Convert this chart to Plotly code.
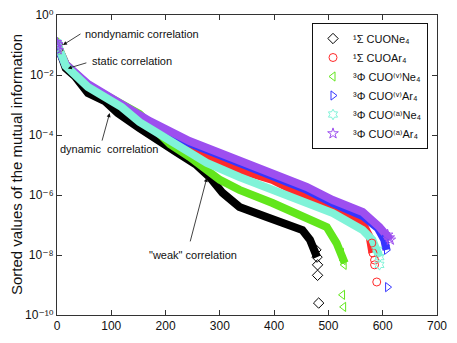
import plotly.graph_objects as go

# ---- data (rank, sorted mutual information) ----
names = ["¹Σ CUONe₄", "¹Σ CUOAr₄",
         "³Φ CUO⁽ᵛ⁾Ne₄", "³Φ CUO⁽ᵛ⁾Ar₄",
         "³Φ CUO⁽ᵃ⁾Ne₄", "³Φ CUO⁽ᵃ⁾Ar₄"]

black_rank = [1, 9, 16, 33, 57, 88, 112, 152, 189, 208, 220, 257, 281, 305, 336, 386, 428, 452, 466, 475, 479]
black_val = [1.0e-1, 4.7e-2, 1.7e-2, 9.0e-3, 2.5e-3, 1.35e-3, 5.4e-4, 1.7e-4, 6.8e-5, 4.0e-5, 2.7e-5,
             1.0e-5, 4.0e-6, 1.17e-6, 4.0e-7, 1.86e-7, 1.0e-7, 6.8e-8, 3.2e-8, 1.17e-8, 8.5e-9]
black_tail_rank = [477, 479, 480, 480, 482]
black_tail_val = [1.48e-8, 8.5e-9, 4.7e-9, 2.1e-9, 2.5e-10]

red_rank = [1, 9, 16, 57, 119, 171, 276, 336, 397, 460, 515, 563, 576, 581]
red_val = [9.3e-2, 4.3e-2, 2.3e-2, 4.3e-3, 9.3e-4, 2.0e-4, 1.86e-5, 6.8e-6, 3.2e-6, 8.5e-7,
           3.2e-7, 1.17e-7, 4.0e-8, 1.17e-8]
red_tail_rank = [580, 582, 585, 585, 589]
red_tail_val = [2.5e-8, 1.17e-8, 6.8e-9, 4.7e-9, 1.26e-9]

green_rank = [1, 9, 16, 57, 119, 152, 208, 244, 300, 336, 397, 460, 497, 515, 521, 530]
green_val = [1.0e-1, 4.7e-2, 2.3e-2, 4.6e-3, 1.07e-3, 5.0e-4, 5.0e-5, 1.86e-5, 3.2e-6, 1.48e-6,
             5.4e-7, 1.86e-7, 8.5e-8, 2.5e-8, 1.48e-8, 5.4e-9]
green_tail_rank = [524, 527, 529, 526, 528]
green_tail_val = [1.17e-8, 6.8e-9, 4.7e-9, 4.7e-10, 1.86e-10]

blue_rank = [1, 9, 16, 57, 119, 171, 244, 336, 397, 460, 508, 563, 591, 603, 607]
blue_val = [8.5e-2, 4.0e-2, 2.1e-2, 4.6e-3, 1.0e-3, 2.5e-4, 5.4e-5, 1.17e-5, 4.3e-6, 1.48e-6,
            5.4e-7, 2.0e-7, 7.9e-8, 3.2e-8, 1.48e-8]
blue_tail_rank = [603, 605, 607, 609]
blue_tail_val = [3.2e-8, 2.1e-8, 1.48e-8, 8.5e-10]

cyan_rank = [1, 9, 16, 57, 119, 152, 213, 276, 336, 397, 460, 508, 563, 581, 594]
cyan_val = [1.07e-1, 4.7e-2, 2.0e-2, 4.0e-3, 8.5e-4, 2.7e-4, 5.4e-5, 1.17e-5, 4.0e-6, 1.48e-6,
            5.4e-7, 2.5e-7, 6.8e-8, 3.2e-8, 8.5e-9]
cyan_tail_rank = [590, 594, 594]
cyan_tail_val = [1.48e-8, 8.5e-9, 4.7e-9]

purple_rank = [1, 9, 16, 57, 119, 171, 244, 336, 397, 460, 508, 563, 594, 609, 614]
purple_val = [9.3e-2, 4.7e-2, 2.3e-2, 5.0e-3, 1.07e-3, 2.9e-4, 6.3e-5, 1.48e-5, 5.4e-6, 1.86e-6,
              6.8e-7, 2.7e-7, 8.5e-8, 4.7e-8, 3.2e-8]
purple_tail_rank = [609, 612, 614]
purple_tail_val = [4.7e-8, 3.8e-8, 3.2e-8]

start_rank = [0, 1, 2, 3]
start_val = [1.26e-1, 8.5e-2, 1.07e-1, 6.8e-2]

x_ticks = [0, 100, 200, 300, 400, 500, 600, 700]
y_tick_vals = [1, 1e-2, 1e-4, 1e-6, 1e-8, 1e-10]
y_tick_text = ["10⁰", "10⁻²", "10⁻⁴", "10⁻⁶", "10⁻⁸", "10⁻¹⁰"]

colors = ["#000000", "#ff2a2a", "#62e61c", "#3535ff", "#80f3d8", "#9d4fef"]
symbols = ["diamond-open", "circle-open", "triangle-left-open", "triangle-right-open",
           "hexagram-open", "star-open"]

series = [
    (black_rank, black_val, black_tail_rank, black_tail_val),
    (red_rank, red_val, red_tail_rank, red_tail_val),
    (green_rank, green_val, green_tail_rank, green_tail_val),
    (blue_rank, blue_val, blue_tail_rank, blue_tail_val),
    (cyan_rank, cyan_val, cyan_tail_rank, cyan_tail_val),
    (purple_rank, purple_val, purple_tail_rank, purple_tail_val),
]
line_order = [0, 1, 2, 3, 5, 4]  # cyan band painted last, as in the picture

FONT = "Liberation Sans, Arial, Helvetica, DejaVu Sans, sans-serif"
fig = go.Figure()

for i in line_order:
    r, v, tr, tv = series[i]
    fig.add_trace(go.Scatter(x=r, y=v, mode="lines", showlegend=False, hoverinfo="skip",
                             line=dict(color=colors[i], width=8)))
for i, (r, v, tr, tv) in enumerate(series):
    fig.add_trace(go.Scatter(x=tr, y=tv, mode="markers", name=names[i],
                             marker=dict(symbol=symbols[i], size=8, color=colors[i],
                                         line=dict(width=1, color=colors[i]))))
    fig.add_trace(go.Scatter(x=start_rank, y=start_val, mode="markers", showlegend=False,
                             marker=dict(symbol=symbols[i], size=7, color=colors[i],
                                         line=dict(width=1, color=colors[i]))))

ann_font = dict(family=FONT, size=11, color="#111")
arrows = [  # head position (rank, log10 value), pixel offset of tail
    (11, -1.0, 19, -12),
    (20, -1.78, 20, -6),
    (97, -3.27, -8, 29),
    (276, -5.43, -17, 65),
]
for hx, hy, ax, ay in arrows:
    fig.add_annotation(x=hx, y=hy, xref="x", yref="y", text="", showarrow=True,
                       ax=ax, ay=ay, arrowhead=2, arrowsize=1, arrowwidth=0.8,
                       arrowcolor="#111")

labels = [
    ("nondynamic correlation", 47.5, -0.63),
    ("static correlation", 60, -1.53),
    ("dynamic\u00a0\u00a0correlation", 1.3, -4.47),
    ("\"weak\" correlation", 165, -8.0),
]
for t, lx, ly in labels:
    fig.add_annotation(x=lx, y=ly, xref="x", yref="y", text=t, showarrow=False,
                       xanchor="left", yanchor="middle", font=ann_font)

# page body has an 8px margin: figure is laid out so the plot box lands at
# x 57..437, y 15..315 of the browser window
W, H = 441, 327
L, R, T, B = 49, 12, 7, 20
plot_w = W - L - R
fig.add_annotation(x=(16 - 57) / plot_w, y=0.5, xref="paper", yref="paper", textangle=-90,
                   xanchor="center", yanchor="middle",
                   text="Sorted values of the mutual information", showarrow=False,
                   font=dict(family=FONT, size=15, color="#111"))

axis_common = dict(showline=True, linecolor="#333", linewidth=1, mirror="ticks",
                   ticks="inside", ticklen=5, tickcolor="#333", showgrid=False,
                   zeroline=False, automargin=False,
                   tickfont=dict(family=FONT, size=12, color="#111"))
fig.update_xaxes(range=[0, 700], tickvals=x_ticks, **axis_common)
fig.update_yaxes(type="log", range=[-10, 0], tickvals=y_tick_vals, ticktext=y_tick_text,
                 **axis_common)

fig.update_layout(
    width=W, height=H,
    margin=dict(l=L, r=R, t=T, b=B, autoexpand=False),
    paper_bgcolor="white", plot_bgcolor="white",
    font=dict(family=FONT),
    legend=dict(x=(312 - 57) / plot_w, y=1 - (23 - 15) / (H - T - B), xanchor="left", yanchor="top",
                bgcolor="white", bordercolor="#111", borderwidth=1,
                font=dict(family=FONT, size=11, color="#111"),
                itemwidth=30, tracegroupgap=0),
)

fig.write_html("out.html")
